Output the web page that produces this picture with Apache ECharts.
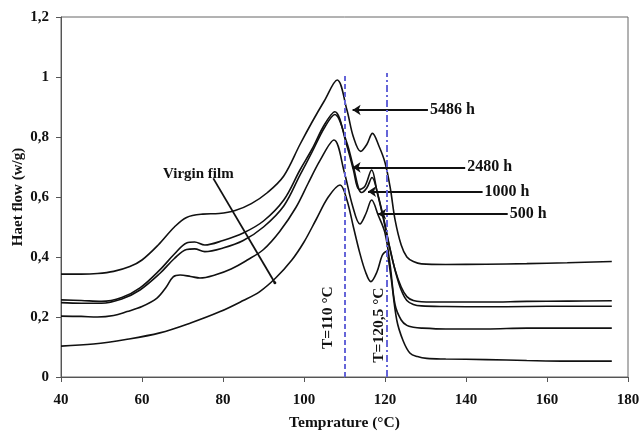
<!DOCTYPE html>
<html><head><meta charset="utf-8">
<script src="https://cdn.jsdelivr.net/npm/echarts@6/dist/echarts.min.js"></script>
<style>html,body{margin:0;padding:0;background:#fff}#c{width:641px;height:435px}</style>
</head><body><div id="c"></div>
<script>
// Temperatures (°C) and heat flow (W/g) for each curve
const t5486 = [40, 45, 49, 53, 57, 60, 64, 68, 71, 75, 79, 83, 87, 91, 95, 99, 102, 105, 108.2, 110.6, 112.2, 114, 115.5, 116.9, 118.5, 120, 121.3, 122.5, 124, 125.4, 127, 129, 135, 145, 155, 165, 176];
const h5486 = [0.343, 0.343, 0.345, 0.352, 0.368, 0.39, 0.44, 0.5, 0.532, 0.543, 0.545, 0.555, 0.578, 0.615, 0.67, 0.775, 0.85, 0.92, 0.99, 0.89, 0.80, 0.752, 0.775, 0.812, 0.77, 0.715, 0.63, 0.523, 0.44, 0.40, 0.385, 0.377, 0.375, 0.376, 0.378, 0.381, 0.385];

const t2480 = [40, 45, 50, 55, 59.5, 64.4, 68, 71, 73, 75.5, 80, 85, 90, 95, 99, 102, 105, 107.6, 110.6, 112.2, 113.6, 115, 116.7, 118, 119.5, 121, 122.5, 124, 125.4, 127, 129, 135, 145, 155, 165, 176];
const h2480 = [0.257, 0.255, 0.252, 0.265, 0.297, 0.357, 0.41, 0.447, 0.45, 0.44, 0.455, 0.48, 0.52, 0.59, 0.69, 0.76, 0.84, 0.884, 0.77, 0.69, 0.625, 0.635, 0.69, 0.62, 0.534, 0.44, 0.357, 0.3, 0.268, 0.255, 0.251, 0.25, 0.25, 0.252, 0.253, 0.254];

const t1000 = [40, 45, 50, 55, 59.5, 64.4, 68, 71, 73, 75.5, 80, 85, 90, 95, 99, 102, 105, 107.6, 110.6, 112.2, 114.2, 115.5, 116.8, 118.2, 119.8, 121.2, 122.6, 124, 125.4, 127, 129, 135, 145, 155, 165, 176];
const h1000 = [0.248, 0.246, 0.246, 0.26, 0.29, 0.345, 0.395, 0.425, 0.427, 0.418, 0.43, 0.455, 0.5, 0.57, 0.673, 0.75, 0.83, 0.875, 0.78, 0.70, 0.615, 0.63, 0.665, 0.61, 0.52, 0.43, 0.35, 0.29, 0.255, 0.242, 0.237, 0.235, 0.234, 0.235, 0.236, 0.236];

const t500 = [40, 45, 49, 53, 56.3, 60, 63.7, 66, 67.7, 69.4, 72, 74.3, 78, 82, 86, 90, 94, 98, 101, 104, 107.4, 110, 112, 113.8, 115.3, 116.7, 118.3, 120, 121.3, 122.5, 124, 125.4, 127, 129, 135, 145, 155, 165, 176];
const h500 = [0.203, 0.202, 0.2, 0.205, 0.218, 0.235, 0.263, 0.3, 0.334, 0.34, 0.335, 0.33, 0.34, 0.36, 0.39, 0.425, 0.485, 0.565, 0.645, 0.723, 0.79, 0.68, 0.57, 0.51, 0.545, 0.59, 0.54, 0.48, 0.37, 0.24, 0.19, 0.172, 0.166, 0.163, 0.16, 0.16, 0.163, 0.163, 0.163];

const tVirgin = [40, 48, 56, 64.4, 72, 79.3, 85, 89, 93, 97, 100, 103, 106, 108.9, 110.6, 112.2, 113.8, 115.2, 116.5, 118, 119.3, 120.2, 121.3, 122.9, 124.5, 126.2, 128, 130.3, 135, 145, 155, 165, 176];
const hVirgin = [0.103, 0.11, 0.125, 0.147, 0.18, 0.218, 0.255, 0.284, 0.33, 0.39, 0.45, 0.525, 0.6, 0.64, 0.59, 0.50, 0.412, 0.35, 0.318, 0.35, 0.405, 0.418, 0.35, 0.19, 0.12, 0.079, 0.068, 0.062, 0.06, 0.058, 0.055, 0.053, 0.053];

const xTicks = [40, 60, 80, 100, 120, 140, 160, 180];
const yTicks = ['0', '0,2', '0,4', '0,6', '0,8', '1', '1,2'];

// annotation anchors (data coordinates)
const refTemps = [110, 120.5];
const refLabels = ['T=110 °C', 'T=120,5 °C'];
const arrowLabels = ['5486 h', '2480 h', '1000 h', '500 h'];
const arrowFrom = [[130.6, 0.89], [139.8, 0.699], [144.1, 0.618], [150.3, 0.543]];
const arrowTo = [[112.0, 0.89], [112.0, 0.699], [115.8, 0.618], [118.3, 0.543]];

const FONT = 'Liberation Serif';
const zip = (a, b) => a.map((v, i) => [v, b[i]]);

const lineSeries = (name, t, h, extra) => Object.assign({
  name, type: 'line', data: zip(t, h), showSymbol: false, smooth: 0.35,
  lineStyle: { color: '#111', width: 1.6 }, silent: true, animation: false, z: 3
}, extra || {});

const arrows = arrowLabels.map((lab, i) => [
  { coord: arrowFrom[i], symbol: 'none', label: { show: true, position: 'start', formatter: lab, distance: 2,
      fontFamily: FONT, fontWeight: 'bold', fontSize: 16, color: '#111' } },
  { coord: arrowTo[i], symbol: 'arrow', symbolSize: 8 }
]);
const virginLine = [
  { coord: [77.6, 0.662], symbol: 'none' },
  { coord: [92.8, 0.314], symbol: 'circle', symbolSize: 3 }
];
const refLines = refTemps.map((t, i) => [
  { coord: [t, 0], symbol: 'none', lineStyle: { color: '#6565d8', width: 2, type: i === 0 ? [5, 3] : [7, 3, 2, 3] } },
  { coord: [t, 1.013], symbol: 'none' }
]);

const option = {
  backgroundColor: '#ffffff',
  animation: false,
  grid: { left: 61, right: 13, top: 17, bottom: 58, containLabel: false, outerBoundsMode: 'none',
    show: true, borderColor: '#666', borderWidth: 1 },
  xAxis: {
    type: 'value', min: 40, max: 180, interval: 20,
    name: 'Temprature (°C)', nameLocation: 'middle', nameGap: 38, nameMoveOverlap: false,
    nameTextStyle: { fontFamily: FONT, fontWeight: 'bold', fontSize: 15.5, color: '#111' },
    axisLine: { lineStyle: { color: '#555' } },
    axisTick: { inside: false, length: 5, lineStyle: { color: '#555' } },
    axisLabel: { fontFamily: FONT, fontWeight: 'bold', fontSize: 15, color: '#111', margin: 16,
      formatter: v => String(xTicks[xTicks.indexOf(v)] ?? v) },
    splitLine: { show: false }
  },
  yAxis: {
    type: 'value', min: 0, max: 1.2, interval: 0.2,
    name: 'Haet flow (w/g)', nameLocation: 'middle', nameGap: 35, nameMoveOverlap: false,
    nameTextStyle: { fontFamily: FONT, fontWeight: 'bold', fontSize: 15, color: '#111' },
    axisLine: { show: true, lineStyle: { color: '#555' } },
    axisTick: { show: true, length: 5, lineStyle: { color: '#555' } },
    axisLabel: { fontFamily: FONT, fontWeight: 'bold', fontSize: 15, color: '#111', margin: 12,
      formatter: v => yTicks[Math.round(v / 0.2)] },
    splitLine: { show: false }
  },
  series: [
    lineSeries('5486 h', t5486, h5486),
    lineSeries('2480 h', t2480, h2480),
    lineSeries('1000 h', t1000, h1000),
    lineSeries('500 h', t500, h500),
    lineSeries('Virgin film', tVirgin, hVirgin, {
      markLine: {
        silent: true, animation: false, symbol: ['none', 'arrow'],
        lineStyle: { color: '#111', width: 1.8, type: 'solid' },
        label: { show: false },
        data: arrows.concat([virginLine]).concat(refLines)
      },
      markPoint: {
        silent: true, animation: false, symbol: 'circle', symbolSize: 0,
        label: { show: true, position: 'inside', fontFamily: FONT, fontWeight: 'bold', fontSize: 15, color: '#111' },
        data: [
          { coord: [73.9, 0.677], label: { formatter: 'Virgin film' } },
          { coord: [105.9, 0.198], label: { formatter: refLabels[0], rotate: 90, fontSize: 15.5 } },
          { coord: [118.5, 0.173], label: { formatter: refLabels[1], rotate: 90, fontSize: 15.5 } }
        ]
      }
    })
  ]
};
echarts.init(document.getElementById('c'), null, { renderer: 'canvas' }).setOption(option);
</script></body></html>
